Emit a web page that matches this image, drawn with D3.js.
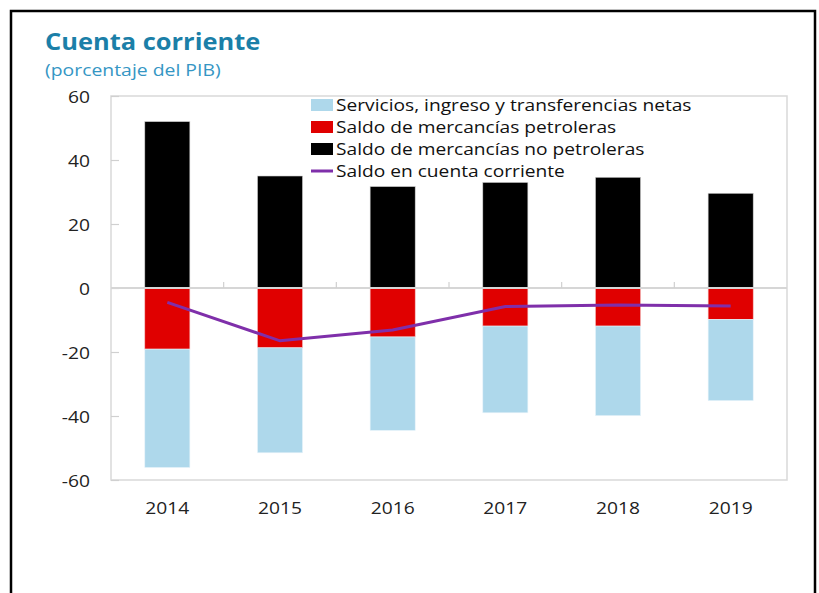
<!DOCTYPE html>
<html><head><meta charset="utf-8">
<script src="https://cdn.jsdelivr.net/npm/d3@7"></script>
<style>body{margin:0;background:#fff}svg{display:block}</style>
</head><body>
<svg id="c" width="819" height="593"></svg>
<script>
const years = ["2014","2015","2016","2017","2018","2019"];
const services = [-37.0, -32.8, -29.2, -27.1, -28.0, -25.4];
const oil = [-19.1, -18.7, -15.3, -11.9, -11.9, -9.8];
const nonOil = [52.0, 35.0, 31.7, 33.0, 34.6, 29.6];
const currentAccount = [-4.5, -16.5, -13.1, -5.8, -5.3, -5.6];
const yTicks = [-60, -40, -20, 0, 20, 40, 60];
const legendLabels = ["Servicios, ingreso y transferencias netas","Saldo de mercancías petroleras","Saldo de mercancías no petroleras","Saldo en cuenta corriente"];

const font = "'Open Sans', sans-serif";
const svg = d3.select("#c");
// stretch text horizontally to mimic the wider reference face
function stretch(sel, k){
  sel.each(function(){
    const w = this.getComputedTextLength();
    d3.select(this).attr("textLength", w*k).attr("lengthAdjust","spacingAndGlyphs");
  });
  return sel;
}
// outer frame
svg.append("path").attr("d","M11,600 V11 H815 V600").attr("fill","none").attr("stroke","#000").attr("stroke-width",2.5);

stretch(svg.append("text").attr("x",45).attr("y",50).text("Cuenta corriente")
  .attr("font-family",font).attr("font-weight","bold").attr("font-size",24).attr("fill","#1b7fa8"), 1.06);
stretch(svg.append("text").attr("x",45).attr("y",76).text("(porcentaje del PIB)")
  .attr("font-family",font).attr("font-size",17).attr("fill","#3596c4"), 1.14);

const L=111, R=787, T=96, B=480;
const x = d3.scaleBand().domain(years).range([L,R]).paddingInner(0.6).paddingOuter(0.3);
const xb = d3.scaleBand().domain(years).range([L,R]);
const y = d3.scaleLinear().domain([-60,60]).range([B,T]);

svg.append("rect").attr("x",L).attr("y",T).attr("width",R-L).attr("height",B-T)
  .attr("fill","none").attr("stroke","#d9d9d9").attr("stroke-width",1.5);

// y axis
const ya = svg.append("g").attr("transform",`translate(${L},0)`)
  .call(d3.axisRight(y).tickValues(yTicks).tickSize(8).tickFormat(""));
ya.select(".domain").remove();
ya.selectAll("line").attr("stroke","#d0d0d0").attr("stroke-width",1.2);
svg.append("g").selectAll("text").data(yTicks).join("text")
  .attr("x",90).attr("y",d=>y(d)+6.5).attr("text-anchor","end").text(d=>d)
  .attr("font-family",font).attr("font-size",17).attr("fill","#222")
  .call(s=>stretch(s,1.13));

// bars
const data = years.map((yr,i)=>({yr, s:services[i], o:oil[i], n:nonOil[i]}));
const g = svg.append("g");
data.forEach(d=>{
  const bw = x.bandwidth();
  g.append("rect").attr("x",x(d.yr)).attr("width",bw).attr("y",y(d.n)).attr("height",y(0)-y(d.n))
    .attr("fill","#000").attr("stroke","#cfcfcf").attr("stroke-width",0.6);
  g.append("rect").attr("x",x(d.yr)).attr("width",bw).attr("y",y(0)).attr("height",y(d.o)-y(0))
    .attr("fill","#e00000").attr("stroke","#f3c0c0").attr("stroke-width",0.6);
  g.append("rect").attr("x",x(d.yr)).attr("width",bw).attr("y",y(d.o)).attr("height",y(d.o+d.s)-y(d.o))
    .attr("fill","#aed8eb").attr("stroke","#e8f4fa").attr("stroke-width",0.6);
});

// zero line with x ticks
svg.append("line").attr("x1",L).attr("x2",R).attr("y1",y(0)).attr("y2",y(0))
  .attr("stroke","#d6d6d6").attr("stroke-width",2);
svg.append("g").selectAll("line").data(years.slice(1)).join("line")
  .attr("x1",d=>xb(d)).attr("x2",d=>xb(d)).attr("y1",y(0)).attr("y2",y(0)-6)
  .attr("stroke","#d0d0d0").attr("stroke-width",1.2);

// line
const line = d3.line().x((d,i)=>x(years[i])+x.bandwidth()/2).y(d=>y(d));
svg.append("path").datum(currentAccount).attr("d",line).attr("fill","none")
  .attr("stroke","#7f2faa").attr("stroke-width",3);

// x labels
svg.append("g").selectAll("text").data(years).join("text")
  .attr("x",d=>xb(d)+xb.bandwidth()/2).attr("y",514).attr("text-anchor","middle").text(d=>d)
  .attr("font-family",font).attr("font-size",17).attr("fill","#222")
  .call(s=>stretch(s,1.13));

// legend
const colors = ["#aed8eb","#e00000","#000"];
const lg = svg.append("g");
legendLabels.forEach((t,i)=>{
  const cy = 105 + i*22;
  if(i<3) lg.append("rect").attr("x",311).attr("y",cy-6).attr("width",22).attr("height",12).attr("fill",colors[i]);
  else lg.append("line").attr("x1",311).attr("x2",333).attr("y1",cy).attr("y2",cy).attr("stroke","#7f2faa").attr("stroke-width",3);
  stretch(lg.append("text").attr("x",336).attr("y",cy+6).text(t)
    .attr("font-family",font).attr("font-size",17).attr("fill","#111"), 1.127);
});
</script>
</body></html>
